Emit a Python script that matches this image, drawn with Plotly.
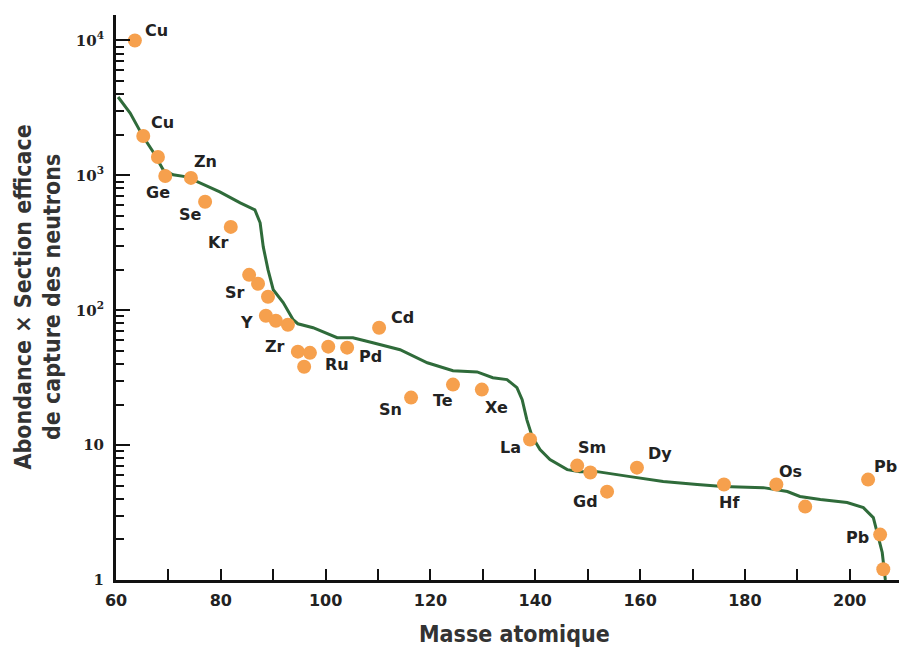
import math
import plotly.graph_objects as go

# ---- data ----
curve_mass = [60.4, 62.7, 65.2, 67.1, 69.0, 70.9, 73.5, 76.0, 79.8, 83.7, 86.5, 87.5, 88.1, 89.0,
              90.0, 91.9, 93.8, 94.7, 97.6, 102.2, 105.2, 109.0, 114.2, 119.4, 124.3, 128.9,
              131.9, 134.6, 136.5, 137.5, 138.4, 139.4, 140.9, 142.8, 146.1, 148.5, 151.8,
              158.1, 164.4, 170.9, 175.8, 183.5, 188.1, 190.5, 194.4, 199.5, 202.6, 204.5,
              205.4, 206.2, 206.8]
curve_value = [3810, 2900, 1930, 1490, 1100, 1010, 975, 880, 755, 625, 555, 445, 295, 200,
               142, 114, 85, 79.4, 74.2, 62.6, 62.6, 57.4, 51, 40.8, 35.6, 34.9,
               31.6, 30.6, 26.7, 21.7, 15.4, 11.6, 9.26, 7.81, 6.58, 6.36, 6.36,
               5.84, 5.37, 5.1, 4.93, 4.84, 4.53, 4.16, 3.95, 3.75, 3.44, 2.9,
               2.17, 1.6, 1.0]

pt_mass = [63.6, 65.2, 68.0, 69.4, 74.3, 77.0, 81.9, 85.4, 87.1, 89.0, 88.6, 90.5, 92.8,
           94.7, 97.0, 95.9, 100.5, 104.1, 110.2, 116.3, 124.3, 129.8, 139.0, 148.0, 150.5,
           153.7, 159.4, 176.0, 186.0, 191.5, 203.5, 205.8, 206.4]
pt_value = [10000, 1960, 1370, 990, 958, 637, 415, 183, 157, 126, 91, 83.6, 78,
            49.3, 48.3, 38.1, 53.7, 52.8, 74.2, 22.5, 28.1, 25.8, 11.0, 7.05, 6.26,
            4.52, 6.81, 5.1, 5.1, 3.5, 5.55, 2.17, 1.2]
pt_label = ["Cu", "Cu", "", "Ge", "Zn", "Se", "Kr", "", "", "Sr", "Y", "", "",
            "Zr", "", "", "Ru", "Pd", "Cd", "Sn", "Te", "Xe", "La", "Sm", "",
            "Gd", "Dy", "Hf", "Os", "", "Pb", "Pb", ""]

x_tick_vals = [60, 80, 100, 120, 140, 160, 180, 200]
x_minor_vals = [70, 90, 110, 130, 150, 170, 190]
y_tick_vals = [1, 10, 100, 1000, 10000]
y_tick_text = ["1", "10", "10<sup>2</sup>", "10<sup>3</sup>", "10<sup>4</sup>"]
x_title = "Masse atomique"
y_title = "Abondance × Section efficace<br>de capture des neutrons"

# ---- styles (label offsets in px: dx right, dy down) ----
label_shift = [(22, -10), (19, -13), None, (-7, 17), (15, -16), (-15, 13), (-13, 16), None, None,
               (-33, -4), (-19, 7), None, None, (-23, -5), None, None, (9, 18), (23, 9),
               (23, -10), (-21, 12), (-10, 16), (15, 18), (-20, 8), (15, -18), None,
               (-22, 10), (23, -14), (6, 18), (14, -13), None, (17, -13), (-23, 3), None]

GREEN = "#2F6B3A"
ORANGE = "#F6A04D"
title_font = dict(family="DejaVu Sans Condensed, Liberation Sans Narrow, sans-serif",
                  size=23, color="#333333", weight="bold")

y_minor = [m * 10 ** d for d in range(0, 5) for m in range(2, 10) if m * 10 ** d < 15000]

fig = go.Figure()
fig.add_trace(go.Scatter(x=curve_mass, y=curve_value, mode="lines",
                         line=dict(color=GREEN, width=3), hoverinfo="skip"))
fig.add_trace(go.Scatter(x=pt_mass, y=pt_value, mode="markers",
                         marker=dict(color=ORANGE, size=14, line=dict(width=0)),
                         cliponaxis=False))

for m, v, lab, sh in zip(pt_mass, pt_value, pt_label, label_shift):
    if lab and sh:
        fig.add_annotation(x=m, y=math.log10(v), yref="y", xref="x", text=lab, showarrow=False,
                           xshift=sh[0], yshift=-sh[1], xanchor="center", yanchor="middle",
                           font=dict(family="DejaVu Sans, Verdana, sans-serif", size=16,
                                     color="#222222", weight="bold"))

fig.add_annotation(xref="paper", yref="paper", x=(514 - 116) / 783, y=(580 - 634) / 565,
                   text=x_title, showarrow=False, xanchor="center", yanchor="middle",
                   font=title_font)
fig.add_annotation(xref="paper", yref="paper", x=(37 - 116) / 783, y=0.5,
                   text=y_title, showarrow=False, xanchor="center", yanchor="middle",
                   textangle=-90, font=title_font)

fig.update_layout(
    width=899, height=650,
    margin=dict(l=116, r=0, t=15, b=70),
    paper_bgcolor="white", plot_bgcolor="white",
    showlegend=False,
    xaxis=dict(range=[60, 209.4], showgrid=False, zeroline=False,
               showline=True, linecolor="#111111", linewidth=3,
               tickmode="array", tickvals=x_tick_vals,
               ticks="inside", ticklen=11, tickwidth=2, tickcolor="#111111",
               ticklabelstandoff=4,
               minor=dict(tickvals=x_minor_vals, ticks="inside", ticklen=11,
                          tickwidth=2, tickcolor="#111111", showgrid=False),
               tickfont=dict(family="DejaVu Sans, Verdana, sans-serif", size=16,
                             color="#222222", weight="bold")),
    yaxis=dict(type="log", range=[0, 4.189], showgrid=False, zeroline=False,
               showline=True, linecolor="#111111", linewidth=3,
               tickmode="array", tickvals=y_tick_vals, ticktext=y_tick_text,
               ticks="inside", ticklen=14, tickwidth=2, tickcolor="#111111",
               ticklabelstandoff=6,
               minor=dict(tickvals=y_minor, ticks="inside", ticklen=8,
                          tickwidth=2, tickcolor="#111111", showgrid=False),
               tickfont=dict(family="DejaVu Serif, Georgia, serif", size=15,
                             color="#222222", weight="bold")),
)

fig.write_html("out.html")
